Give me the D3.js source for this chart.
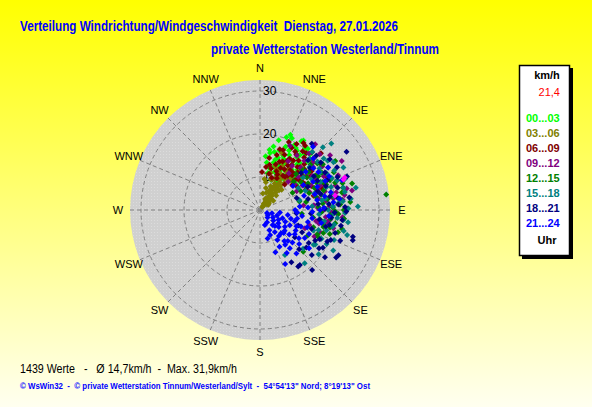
<!DOCTYPE html>
<html>
<head>
<meta charset="utf-8">
<script src="https://cdn.jsdelivr.net/npm/d3@7"></script>
<style>
  body { margin: 0; }
  text { font-family: "Liberation Sans", Arial, sans-serif; white-space: pre; }
</style>
</head>
<body>
<div id="chart"></div>
<script>
// wind readings per 3-hour slot: [direction in degrees, speed in km/h]
var t0003 = [[8,13.5],[10,15.8],[12,17.4],[14,12.2],[15,19.1],[17,14.6],[18,16.9],[20,20.3],[21,11.8],[22,18.2],
  [23,13.9],[24,20.6],[25,15.4],[26,17.7],[27,12.6],[28,19.5],[29,14.8],[30,16.2],[31,21.0],[32,18.6],
  [33,13.2],[34,15.9],[35,17.3],[36,20.1],[37,11.4],[38,14.3],[39,18.9],[40,16.7],[41,12.9],[42,19.8],
  [43,15.1],[44,17.9],[46,13.7],[47,16.4],[49,18.3],[51,14.6],[53,15.8],[55,12.7],[58,16.9],[62,14.1],
  [66,17.2],[20,9.8],[26,10.5],[33,10.1],[12,11.1],[6,14.9],[9,16.5],[22,21.2],[24,13.1],[32,21.4],
  [11,12.5],[16,13.8],[19,15.2],[23,16.1],[27,14.3],[30,19.0],[34,12.1],[36,18.1],[39,16.0],[42,14.0],
  [45,18.8],[48,15.3],[50,12.3],[14,16.2],[25,18.9],[31,11.2],[18,12.9],[38,20.4],[44,13.0],[28,16.8]];
var t0306 = [[38,3.2],[42,3.8],[30,4.1],[50,4.4],[36,4.9],[25,5.2],[45,5.5],[33,5.8],[55,6.1],[40,6.4],
  [20,6.6],[28,6.9],[35,7.2],[48,7.4],[15,7.6],[31,7.9],[38,8.2],[24,8.4],[44,8.7],[12,8.9],
  [34,9.1],[29,9.4],[40,9.7],[19,9.9],[36,10.2],[26,10.5],[42,10.8],[33,11.1],[16,11.3],[38,11.6],
  [30,12.0],[45,12.3],[22,12.6],[36,13.0],[40,13.4],[27,13.8],[21,16.5],[10,6.2],[52,5.0],[58,4.6],
  [8,9.6],[47,9.2],[32,5.4],[27,7.5],[43,6.0],[37,8.8],
  [35,3.6],[40,4.6],[28,5.0],[44,5.1],[33,6.3],[38,6.8],[24,7.0],[42,7.8],[30,8.6],[36,9.5],
  [22,10.0],[33,10.6],[38,12.4],[28,11.6],[42,11.9],[25,12.2],[19,13.2],[31,13.3],[35,14.1],[24,14.6],[29,15.0]];
var t0609 = [[3,11.2],[8,12.4],[12,13.1],[14,11.0],[17,15.7],[19,13.6],[21,17.3],[23,12.1],[25,14.8],[27,18.6],
  [28,10.7],[29,19.9],[30,16.1],[31,13.4],[33,17.8],[34,11.9],[35,15.2],[36,19.2],[37,14.0],[38,16.9],
  [39,12.6],[40,18.3],[41,15.6],[42,20.4],[43,13.3],[44,17.1],[45,14.7],[46,19.5],[47,21.7],[48,16.3],
  [49,12.9],[50,18.0],[51,15.0],[53,17.4],[54,13.8],[56,16.6],[58,19.0],[60,14.4],[62,17.0],[65,15.5],
  [68,18.4],[72,16.2],[24,16.4],[32,14.5],[26,11.5],[44,10.6],[52,11.8],[35,20.6],[20,10.3],[58,12.5],
  [10,14.6],[15,12.3],[18,17.2],[22,14.4],[26,13.2],[29,15.5],[31,18.2],[34,16.2],[37,12.0],[39,19.4],
  [41,13.9],[43,16.0],[46,15.8],[48,18.9],[50,13.6],[52,20.0],[55,15.7],[57,14.2],[59,17.7],[63,19.6],
  [66,14.0],[70,17.5],[75,15.2],[23,19.5],[33,20.9]];
var t0912 = [[25,18.8],[30,15.4],[34,17.6],[38,13.2],[41,19.7],[44,16.0],[47,21.3],[49,14.1],[51,18.2],[53,12.4],
  [55,20.0],[57,16.8],[59,24.5],[60,13.7],[62,19.1],[64,15.3],[66,22.2],[68,17.4],[70,14.6],[72,20.8],
  [74,18.0],[76,23.1],[78,24.2],[79,16.2],[81,19.6],[83,21.7],[85,14.9],[87,18.5],[89,22.6],[91,16.9],
  [93,20.3],[96,17.7],[98,18.8],[101,15.6],[104,19.9],[107,14.3],[112,13.6],[116,16.4],[45,11.6],[63,11.9],
  [84,12.5],[40,22.3],[52,23.0],
  [36,15.0],[42,17.7],[48,19.0],[54,15.7],[58,21.0],[61,17.2],[65,19.8],[69,21.6],[71,16.6],[75,15.5],
  [77,20.5],[80,22.3],[82,17.8],[86,20.9],[88,15.8],[92,19.0],[95,21.6],[100,18.2],[103,16.4],[110,17.1]];
var t1215 = [[45,14.2],[48,18.1],[50,12.6],[52,16.7],[54,20.4],[56,13.9],[58,17.5],[59,19.1],[61,15.1],[63,21.6],
  [65,12.8],[66,18.3],[68,16.0],[70,20.9],[71,14.4],[73,17.8],[74,24.6],[75,22.3],[77,15.7],[79,19.4],
  [80,13.2],[82,21.1],[84,17.0],[85,23.4],[87,15.9],[88,19.3],[90,21.8],[91,19.8],[92,16.6],[94,18.7],
  [96,22.0],[98,14.8],[100,20.1],[102,17.3],[104,19.1],[106,21.2],[108,15.4],[110,18.0],[113,16.8],[118,14.9],
  [134,16.3],[83,31.9],[62,10.9],[78,11.7],[95,12.1],[57,23.2],
  [47,16.0],[51,19.5],[55,15.6],[60,18.0],[64,16.9],[67,20.0],[69,18.8],[72,22.5],[76,17.0],[78,21.8],
  [81,18.2],[86,21.0],[89,17.6],[93,20.6],[97,18.9],[99,16.5],[103,21.9],[105,17.6],[109,19.5],[115,17.4]];
var t1518 = [[42,20.5],[45,23.0],[47,25.0],[49,17.6],[51,21.4],[53,14.9],[55,19.2],[57,22.7],[59,16.3],[61,20.0],
  [63,24.1],[65,17.9],[67,13.8],[69,21.5],[71,18.6],[73,15.6],[75,22.4],[77,25.2],[79,19.8],[81,16.9],
  [83,23.6],[85,20.7],[86,14.5],[88,25.1],[90,18.2],[92,22.1],[94,16.1],[96,20.4],[98,23.0],[100,17.5],
  [103,19.6],[106,23.4],[109,16.7],[112,20.9],[115,18.1],[119,21.8],[122,17.5],[123,17.2],[127,19.4],[132,15.8],
  [140,18.5],[151,14.3],[60,12.6],[76,11.8],
  [44,18.9],[50,19.8],[54,21.8],[58,18.9],[62,21.9],[66,20.6],[70,23.3],[72,19.7],[78,22.5],[80,17.8],
  [84,21.7],[87,19.3],[89,22.9],[93,19.5],[97,21.8],[101,19.9],[104,22.4],[107,18.5],[111,15.6],[117,19.7]];
var t1821 = [[38,21.9],[44,18.4],[48,15.2],[52,20.3],[56,26.6],[58,17.1],[61,22.8],[64,14.7],[66,19.5],[69,24.0],
  [72,16.4],[74,21.1],[77,13.8],[79,18.9],[82,23.3],[84,15.9],[86,20.6],[89,17.4],[91,22.4],[94,14.2],
  [96,19.0],[99,16.3],[101,21.5],[104,18.1],[106,24.8],[108,25.0],[110,15.1],[113,20.2],[116,17.8],[118,13.4],
  [120,23.4],[121,19.4],[122,23.2],[124,16.0],[126,21.0],[128,12.6],[131,18.3],[135,15.2],[139,20.8],[144,18.1],
  [146,18.2],[149,16.5],[72,11.3],[95,10.8],[112,11.9],
  [46,20.5],[50,17.5],[54,22.4],[60,19.8],[63,17.3],[67,21.9],[70,18.6],[75,16.9],[81,20.6],[85,18.4],
  [88,22.1],[92,19.7],[97,21.6],[102,18.9],[107,20.6],[111,22.3],[115,19.6],[119,17.0],[123,18.7],[129,16.2]];
var t2124 = [[113,4.1],[122,4.5],[135,4.8],[105,5.2],[150,5.6],[162,6.0],[128,6.3],[140,6.9],[118,7.2],[155,7.5],
  [110,7.9],[132,8.2],[146,8.5],[158,8.6],[100,8.9],[124,9.3],[138,9.6],[117,10.1],[150,10.4],[108,10.8],
  [130,11.2],[142,11.5],[120,11.9],[144,12.3],[112,12.6],[135,13.0],[126,13.5],[122,14.6],[148,14.1],[116,15.0],
  [155,16.2],[140,15.5],[104,13.8],[98,12.2],[92,14.5],[88,17.2],[85,11.6],[80,15.8],[76,19.3],[72,13.1],
  [68,16.7],[64,20.2],[60,14.0],[57,18.5],[54,11.8],[50,16.2],[46,19.6],[40,21.5],[82,21.0],[95,18.4],
  [70,22.6],[102,16.9],[90,10.5],[128,16.8],[160,12.8],[165,9.2],[134,10.0],[97,7.0],[126,7.6],[144,9.8],
  [108,6.5],[115,8.8],[120,5.8],[130,9.8],[137,7.4],[142,13.6],[152,12.0],[114,11.6],[125,12.2],[131,14.4],
  [138,12.0],[106,9.8],[94,11.0],[87,13.5],[78,17.7],[74,15.6],[66,18.9],[62,16.3],[58,21.0],[52,18.1],
  [84,19.5],[90,16.3],[99,14.6],[103,11.2],[110,14.0]];
var extraPts = [[69,23.4],[70,23.0],[79,20.1]];

var slotLabels = ["00...03","03...06","06...09","09...12","12...15","15...18","18...21","21...24"];
var slotColors = ["#00ff00","#808000","#800000","#800080","#008000","#008080","#000080","#0000ff"];
var slotData = [t0003, t0306, t0609, t0912, t1215, t1518, t1821, t2124];

var dirNames = ["N","NNE","NE","ENE","E","ESE","SE","SSE","S","SSW","SW","WSW","W","WNW","NW","NNW"];
var ringTicks = [10, 20, 30];
var currentSpeed = "21,4";

var W = 592, H = 407;
var cx = 260, cy = 210, R = 130;

var svg = d3.select("#chart").append("svg")
  .attr("width", W)
  .attr("height", H);

var defs = svg.append("defs");
var grad = defs.append("linearGradient")
  .attr("id", "bg")
  .attr("x1", 0).attr("y1", 0).attr("x2", 0).attr("y2", 1);
grad.append("stop").attr("offset", "0%").attr("stop-color", "#ffff00");
grad.append("stop").attr("offset", "100%").attr("stop-color", "#fffff0");

var pat = defs.append("pattern")
  .attr("id", "dots")
  .attr("patternUnits", "userSpaceOnUse")
  .attr("width", 3).attr("height", 3);
pat.append("rect").attr("width", 3).attr("height", 3).attr("fill", "#d0d0d0");
pat.append("rect").attr("x", 1).attr("y", 1).attr("width", 1).attr("height", 1).attr("fill", "#dcdcdc");

svg.append("rect")
  .attr("width", W).attr("height", H)
  .attr("fill", "url(#bg)");

// titles
svg.append("text")
  .attr("x", 20).attr("y", 31)
  .attr("textLength", 378).attr("lengthAdjust", "spacingAndGlyphs")
  .style("font-size", "14px").style("font-weight", "bold")
  .attr("fill", "#0000ff")
  .text("Verteilung Windrichtung/Windgeschwindigkeit  Dienstag, 27.01.2026");

svg.append("text")
  .attr("x", 211).attr("y", 54)
  .attr("textLength", 228).attr("lengthAdjust", "spacingAndGlyphs")
  .style("font-size", "14px").style("font-weight", "bold")
  .attr("fill", "#0000ff")
  .text("private Wetterstation Westerland/Tinnum");

// polar scales
var rScale = d3.scaleLinear().domain([10, 30]).range([33, 119]);
var aScale = d3.scaleLinear().domain([0, 360]).range([0, 2 * Math.PI]);

function px(d) { var r = Math.max(0, rScale(d[1])); return cx + r * Math.sin(aScale(d[0])); }
function py(d) { var r = Math.max(0, rScale(d[1])); return cy - r * Math.cos(aScale(d[0])); }

var g = svg.append("g");

g.append("circle")
  .attr("cx", cx).attr("cy", cy).attr("r", R)
  .attr("fill", "url(#dots)");

g.selectAll(".ring")
  .data(ringTicks)
  .enter()
  .append("circle")
  .attr("class", "ring")
  .attr("cx", cx).attr("cy", cy)
  .attr("r", d => rScale(d))
  .attr("fill", "none")
  .attr("stroke", "#808080")
  .attr("stroke-dasharray", "4,3");

g.selectAll(".spoke")
  .data(dirNames)
  .enter()
  .append("line")
  .attr("class", "spoke")
  .attr("x1", cx).attr("y1", cy)
  .attr("x2", (d, i) => cx + R * Math.sin(aScale(i * 22.5)))
  .attr("y2", (d, i) => cy - R * Math.cos(aScale(i * 22.5)))
  .attr("stroke", "#808080")
  .attr("stroke-dasharray", "4,3");

g.selectAll(".dir")
  .data(dirNames)
  .enter()
  .append("text")
  .attr("class", "dir")
  .attr("x", (d, i) => cx + 142 * Math.sin(aScale(i * 22.5)))
  .attr("y", (d, i) => cy - 142 * Math.cos(aScale(i * 22.5)))
  .attr("text-anchor", "middle")
  .attr("dominant-baseline", "central")
  .style("font-size", "11px")
  .attr("fill", "#000")
  .text(d => d);

g.selectAll(".rlab")
  .data(ringTicks)
  .enter()
  .append("text")
  .attr("class", "rlab")
  .attr("x", cx + 3)
  .attr("y", d => cy - rScale(d))
  .attr("dominant-baseline", "central")
  .style("font-size", "12px")
  .attr("fill", "#000")
  .text(d => d);

// points, drawn in time order
var marker = "M0,-3L3,0L0,3L-3,0Z";
slotData.forEach(function(pts, i) {
  g.selectAll(".p" + i)
    .data(pts)
    .enter()
    .append("path")
    .attr("class", "p" + i)
    .attr("d", marker)
    .attr("transform", d => "translate(" + px(d) + "," + py(d) + ")")
    .attr("fill", slotColors[i]);
});
g.selectAll(".px")
  .data(extraPts)
  .enter()
  .append("path")
  .attr("d", marker)
  .attr("transform", d => "translate(" + px(d) + "," + py(d) + ")")
  .attr("fill", "#ff00ff");

// legend box
var lg = svg.append("g");
lg.append("rect")
  .attr("x", 522).attr("y", 68).attr("width", 51).attr("height", 191)
  .attr("fill", "#000");
lg.append("rect")
  .attr("x", 519.5).attr("y", 65.5).attr("width", 50).attr("height", 190)
  .attr("fill", "#fff").attr("stroke", "#000").attr("stroke-width", 1.5);

lg.append("text")
  .attr("x", 547).attr("y", 75)
  .attr("text-anchor", "middle").attr("dominant-baseline", "central")
  .style("font-size", "11px").style("font-weight", "bold")
  .text("km/h");
lg.append("text")
  .attr("x", 560).attr("y", 92)
  .attr("text-anchor", "end").attr("dominant-baseline", "central")
  .style("font-size", "11px")
  .attr("fill", "#ff0000")
  .text(currentSpeed);
lg.selectAll(".leg")
  .data(slotLabels)
  .enter()
  .append("text")
  .attr("class", "leg")
  .attr("x", 526)
  .attr("y", (d, i) => 118 + i * 15)
  .attr("dominant-baseline", "central")
  .style("font-size", "11px").style("font-weight", "bold")
  .attr("fill", (d, i) => slotColors[i])
  .text(d => d);
lg.append("text")
  .attr("x", 547).attr("y", 240)
  .attr("text-anchor", "middle").attr("dominant-baseline", "central")
  .style("font-size", "11px").style("font-weight", "bold")
  .text("Uhr");

// footer
svg.append("text")
  .attr("x", 20).attr("y", 373)
  .attr("textLength", 217).attr("lengthAdjust", "spacingAndGlyphs")
  .style("font-size", "12px")
  .attr("fill", "#000")
  .text("1439 Werte   -   Ø 14,7km/h  -  Max. 31,9km/h");

svg.append("text")
  .attr("x", 20).attr("y", 389)
  .attr("textLength", 350).attr("lengthAdjust", "spacingAndGlyphs")
  .style("font-size", "9px").style("font-weight", "bold")
  .attr("fill", "#0000ff")
  .text("© WsWin32  -  © private Wetterstation Tinnum/Westerland/Sylt  -  54°54'13\" Nord; 8°19'13\" Ost");
</script>
</body>
</html>
